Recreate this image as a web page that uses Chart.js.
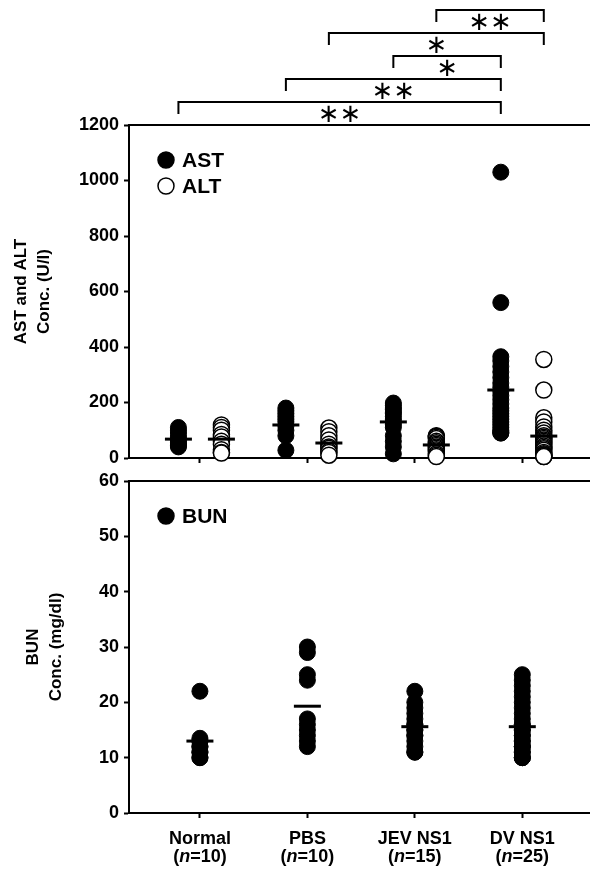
<!DOCTYPE html>
<html>
<head>
<title>AST, ALT and BUN levels</title>
<style>
  body { margin: 0; background: #fff; }
  #wrap { position: relative; width: 590px; height: 872px; }
  canvas { position: absolute; left: 0; top: 0; }
</style>
</head>
<body>
<div id="wrap">
  <canvas id="liverChart" width="590" height="872"></canvas>
  <canvas id="bunChart" width="590" height="872"></canvas>
</div>
<script src="https://cdn.jsdelivr.net/npm/chart.js"></script>
<script>
// groups along the x axis
const groups = ['Normal', 'PBS', 'JEV NS1', 'DV NS1'];
const groupN = [10, 10, 15, 25];
const groupTicks = [0, 1, 2, 3];

const liverTicks = [0, 200, 400, 600, 800, 1000, 1200];
const bunTicks = [0, 10, 20, 30, 40, 50, 60];

// AST (U/l), one list per group
const astValues = [
  [110, 100, 90, 78, 70, 62, 55, 50, 45, 40],
  [180, 170, 160, 150, 140, 130, 115, 100, 80, 28],
  [198, 190, 180, 175, 165, 160, 150, 140, 130, 120, 110, 80, 60, 40, 15],
  [1030, 560, 365, 350, 330, 310, 290, 270, 255, 240, 225, 210, 195, 180, 170, 160, 150, 140, 130, 120, 110, 100, 95, 90, 90]
];
// ALT (U/l)
const altValues = [
  [119, 110, 100, 85, 76, 60, 50, 30, 20, 18],
  [108, 95, 80, 65, 50, 40, 35, 25, 20, 10],
  [80, 78, 75, 70, 60, 55, 50, 45, 40, 35, 30, 25, 15, 10, 5],
  [355, 245, 145, 130, 112, 100, 90, 80, 75, 70, 65, 60, 55, 50, 43, 38, 33, 28, 20, 15, 12, 10, 8, 5, 5]
];
// BUN (mg/dl)
const bunValues = [
  [22, 13.5, 13, 13, 12, 12, 11, 11, 10, 10],
  [30, 29, 25, 24, 17, 16, 15, 14, 13, 12],
  [22, 20, 19, 18, 17, 16, 16, 15, 15, 14, 14, 13, 12, 11, 11],
  [25, 24, 23, 22, 21, 20, 19, 18, 17, 16, 16, 15, 15, 14, 14, 13, 13, 12, 12, 12, 11, 11, 10, 10, 10]
];

// group means (horizontal bars)
const astMeans = [68, 119, 130, 245];
const altMeans = [68, 54, 47, 79];
const bunMeans = [13, 19.3, 15.6, 15.6];

// significance brackets: series, from group, to group, label (top row first)
const sigPairs = [
  ['ALT', 2, 3, '**'],
  ['ALT', 1, 3, '*'],
  ['AST', 2, 3, '*'],
  ['AST', 1, 3, '**'],
  ['AST', 0, 3, '**']
];

Chart.defaults.font.family = '"Liberation Sans", Arial, sans-serif';
Chart.defaults.color = '#000';

const X_MIN = -0.66, X_MAX = 3.63;
const SHIFT = { AST: -0.2, ALT: 0.2 };

function toPoints(lists, shift) {
  return lists.flatMap((vals, g) => vals.map(v => ({ x: g + shift, y: v })));
}
function meanPoints(means, shift) {
  return means.map((v, g) => ({ x: g + shift, y: v }));
}

function xAxis(height) {
  return {
    type: 'linear', min: X_MIN, max: X_MAX,
    afterBuildTicks: s => { s.ticks = groupTicks.map(v => ({ value: v })); },
    afterFit: s => { s.height = height; },
    ticks: { display: false },
    grid: { drawOnChartArea: false, tickLength: 5, tickWidth: 2, tickColor: '#000' },
    border: { color: '#000', width: 2 }
  };
}
function yAxis(max, ticks, title, titlePad) {
  return {
    min: 0, max: max,
    afterBuildTicks: s => { s.ticks = ticks.map(v => ({ value: v })); },
    afterFit: s => { s.width = 129; },
    ticks: { font: { size: 18, weight: 'bold' }, padding: 5, callback: v => String(v) },
    grid: { drawOnChartArea: false, tickLength: 5, tickWidth: 2, tickColor: '#000' },
    border: { color: '#000', width: 2 },
    title: { display: true, text: title, font: { size: 17, weight: 'bold', lineHeight: 1.35 }, padding: { top: titlePad, bottom: 0 } }
  };
}

const meanStyle = { pointStyle: 'line', pointRadius: 13.5, borderColor: '#000', borderWidth: 3, order: 0, clip: false };

const topBorder = {
  id: 'topBorder',
  afterDraw(chart) {
    const { ctx, chartArea: a } = chart;
    ctx.save();
    ctx.strokeStyle = '#000'; ctx.lineWidth = 2;
    ctx.beginPath(); ctx.moveTo(a.left, a.top); ctx.lineTo(a.right, a.top); ctx.stroke();
    ctx.restore();
  }
};

const insetLegend = {
  id: 'insetLegend',
  afterDraw(chart) {
    const { ctx, chartArea: a } = chart;
    const items = chart.data.datasets.filter(d => d.legendText);
    ctx.save();
    items.forEach((d, i) => {
      const x = a.left + 37, y = a.top + 35 + i * 26;
      ctx.beginPath();
      ctx.arc(x, y, 8, 0, Math.PI * 2);
      ctx.fillStyle = d.backgroundColor; ctx.fill();
      ctx.lineWidth = 1.5; ctx.strokeStyle = '#000'; ctx.stroke();
      ctx.fillStyle = '#000';
      ctx.font = 'bold 21px "Liberation Sans", Arial, sans-serif';
      ctx.textBaseline = 'middle';
      ctx.fillText(d.legendText, x + 16, y + 1);
    });
    ctx.restore();
  }
};

const brackets = {
  id: 'brackets',
  afterDraw(chart) {
    const { ctx } = chart;
    const xs = chart.scales.x;
    ctx.save();
    ctx.strokeStyle = '#000'; ctx.lineWidth = 2;
    ctx.fillStyle = '#000';
    ctx.font = '26px "DejaVu Sans", sans-serif';
    ctx.textAlign = 'center'; ctx.textBaseline = 'middle';
    sigPairs.forEach(([series, g1, g2, label], row) => {
      const x1 = xs.getPixelForValue(g1 + SHIFT[series]);
      const x2 = xs.getPixelForValue(g2 + SHIFT[series]);
      const y = 10 + row * 23;
      ctx.beginPath();
      ctx.moveTo(x1, y + 12); ctx.lineTo(x1, y); ctx.lineTo(x2, y); ctx.lineTo(x2, y + 12);
      ctx.stroke();
      ctx.fillText(label.replace(/\*/g, '\u2217'), (x1 + x2) / 2, y + 13);
    });
    ctx.restore();
  }
};

const groupLabels = {
  id: 'groupLabels',
  afterDraw(chart) {
    const { ctx, chartArea: a } = chart;
    const xs = chart.scales.x;
    const bold = 'bold 18px "Liberation Sans", Arial, sans-serif';
    const boldItalic = 'italic bold 18px "Liberation Sans", Arial, sans-serif';
    ctx.save();
    ctx.fillStyle = '#000'; ctx.textBaseline = 'middle';
    groups.forEach((name, i) => {
      const cx = xs.getPixelForValue(groupTicks[i]);
      ctx.font = bold; ctx.textAlign = 'center';
      ctx.fillText(name, cx, a.bottom + 26);
      const parts = [['(', bold], ['n', boldItalic], ['=' + groupN[i] + ')', bold]];
      let total = 0;
      parts.forEach(p => { ctx.font = p[1]; p.push(ctx.measureText(p[0]).width); total += p[2]; });
      let x = cx - total / 2;
      ctx.textAlign = 'left';
      parts.forEach(p => { ctx.font = p[1]; ctx.fillText(p[0], x, a.bottom + 44); x += p[2]; });
    });
    ctx.restore();
  }
};

new Chart(document.getElementById('liverChart'), {
  type: 'scatter',
  data: {
    datasets: [
      { data: meanPoints(astMeans, SHIFT.AST), ...meanStyle },
      { data: meanPoints(altMeans, SHIFT.ALT), ...meanStyle },
      { legendText: 'AST', data: toPoints(astValues, SHIFT.AST), pointRadius: 8, backgroundColor: '#000', borderColor: '#000', borderWidth: 1, order: 1, clip: false },
      { legendText: 'ALT', data: toPoints(altValues, SHIFT.ALT), pointRadius: 8, backgroundColor: '#fff', borderColor: '#000', borderWidth: 1.5, order: 1, clip: false }
    ]
  },
  options: {
    responsive: false, animation: false, events: [],
    layout: { autoPadding: false, padding: { top: 125, left: 0, right: 0, bottom: 0 } },
    plugins: { legend: { display: false }, tooltip: { enabled: false } },
    scales: { x: xAxis(872 - 458), y: yAxis(1200, liverTicks, ['AST and ALT', 'Conc. (U/l)'], 10) }
  },
  plugins: [topBorder, insetLegend, brackets]
});

new Chart(document.getElementById('bunChart'), {
  type: 'scatter',
  data: {
    datasets: [
      { data: meanPoints(bunMeans, 0), ...meanStyle },
      { legendText: 'BUN', data: toPoints(bunValues, 0), pointRadius: 8, backgroundColor: '#000', borderColor: '#000', borderWidth: 1, order: 1, clip: false }
    ]
  },
  options: {
    responsive: false, animation: false, events: [],
    layout: { autoPadding: false, padding: { top: 481, left: 0, right: 0, bottom: 0 } },
    plugins: { legend: { display: false }, tooltip: { enabled: false } },
    scales: { x: xAxis(872 - 813), y: yAxis(60, bunTicks, ['BUN', 'Conc. (mg/dl)'], 22) }
  },
  plugins: [topBorder, insetLegend, groupLabels]
});
</script>
</body>
</html>
